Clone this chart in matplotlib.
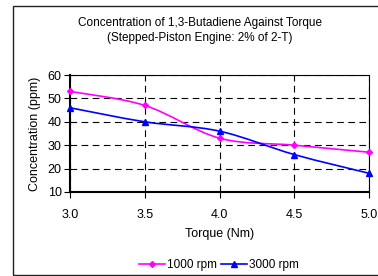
import matplotlib
matplotlib.use('Agg')
import numpy as np
import matplotlib.pyplot as plt
from matplotlib.path import Path
from matplotlib.patches import PathPatch, Rectangle
from matplotlib.lines import Line2D

plt.rcParams['font.family'] = ['Liberation Sans', 'DejaVu Sans']

# Data
torque = [3.0, 3.5, 4.0, 4.5, 5.0]
conc_1000 = [53, 47, 33, 30, 27]
conc_3000 = [46, 40, 36, 26, 18]
x_ticks = [3.0, 3.5, 4.0, 4.5, 5.0]
y_ticks = [10, 20, 30, 40, 50, 60]


def smooth_path(xs, ys):
    # Excel-style smoothed line: cubic Bezier segments through each point
    p = np.column_stack([xs, ys]).astype(float)
    n = len(p)
    verts = [p[0]]
    codes = [Path.MOVETO]
    for i in range(n - 1):
        p0 = p[i - 1] if i > 0 else p[i]
        p3 = p[i + 2] if i + 2 < n else p[i + 1]
        c1 = p[i] + (p[i + 1] - p0) / 6.0
        c2 = p[i + 1] - (p3 - p[i]) / 6.0
        verts += [c1, c2, p[i + 1]]
        codes += [Path.CURVE4] * 3
    return Path(verts, codes)


fig = plt.figure(figsize=(3.78, 2.76), dpi=100)
# outer chart frame
fig.patches.append(Rectangle((13 / 378, 1 / 276), 1.2, 269 / 276, transform=fig.transFigure,
                             fill=False, edgecolor='#222222', linewidth=1.0))

ax = fig.add_axes([70 / 378, 1 - 192 / 276, (369 - 70) / 378, (192 - 75) / 276])

for ys, col, mk, ms in [(conc_1000, '#FF00FF', 'D', 3), (conc_3000, '#0000FF', '^', 4)]:
    ax.add_patch(PathPatch(smooth_path(torque, ys), fill=False, edgecolor=col, linewidth=1.2, zorder=3))
    ax.plot(torque, ys, linestyle='none', marker=mk, markersize=ms, color=col, zorder=4, clip_on=False)

ax.set_xlim(3.0, 5.0)
ax.set_ylim(10, 60)
ax.set_xticks(x_ticks)
ax.set_xticklabels([f'{t:.1f}' for t in x_ticks])
ax.set_yticks(y_ticks)
ax.grid(True, color='black', linestyle=(0, (6, 4)), linewidth=0.8)
ax.set_axisbelow(True)
for s in ax.spines.values():
    s.set_linewidth(0.8)
ax.spines['left'].set_linewidth(1.5)
ax.spines['bottom'].set_linewidth(1.5)
ax.tick_params(direction='out', length=4, width=0.8, labelsize=9)
ax.tick_params(axis='x', pad=8)
ax.tick_params(axis='y', pad=2)

ax.set_xlabel('Torque (Nm)', fontsize=9, labelpad=5)
ax.set_ylabel('Concentration (ppm)', fontsize=9, labelpad=5)

fig.text(200 / 378, 1 - 23 / 276, 'Concentration of 1,3-Butadiene Against Torque',
         ha='center', va='center', fontsize=8.5)
fig.text(200 / 378, 1 - 38 / 276, '(Stepped-Piston Engine: 2% of 2-T)',
         ha='center', va='center', fontsize=8.5)

handles = [Line2D([], [], color='#FF00FF', marker='D', markersize=3, linewidth=1.2),
           Line2D([], [], color='#0000FF', marker='^', markersize=4, linewidth=1.2)]
fig.legend(handles, ['1000 rpm', '3000 rpm'], loc='center', bbox_to_anchor=(219 / 378, 1 - 265 / 276),
           ncol=2, frameon=False, fontsize=8.5, handlelength=2.2, handletextpad=0.2, columnspacing=0.3)

fig.savefig('out.png', dpi=100)
